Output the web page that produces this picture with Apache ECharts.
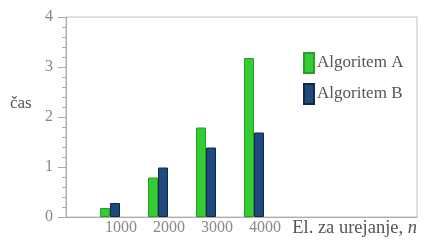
<!DOCTYPE html>
<html><head><meta charset="utf-8">
<script src="https://cdn.jsdelivr.net/npm/echarts@6/dist/echarts.min.js"></script>
<style>html,body{margin:0;padding:0;background:#fff}#c{width:437px;height:250px}</style>
</head><body><div id="c"></div>
<script>
var categories = ['1000', '2000', '3000', '4000'];
var seriesNames = ['Algoritem A', 'Algoritem B'];
var valuesA = [0.18, 0.79, 1.79, 3.18];
var valuesB = [0.28, 0.99, 1.39, 1.69];
var yTicks = [0, 1, 2, 3, 4];

var serif = 'Liberation Serif';
var chart = echarts.init(document.getElementById('c'), null, {renderer: 'canvas'});
chart.setOption({
  animation: false,
  backgroundColor: '#fff',
  graphic: [{type: 'text', left: 10, top: 95, style: {text: 'čas', font: '17px "Liberation Serif"', fill: '#555'}}],
  legend: {
    orient: 'vertical', left: 298, top: 47, itemWidth: 10, itemHeight: 20, itemGap: 9,
    icon: 'rect', data: seriesNames,
    textStyle: {fontFamily: serif, fontSize: 17, color: '#555', padding: [0, 0, 0, -2]}
  },
  grid: [
    {left: 66, right: 20, top: 17, bottom: 33, show: true, borderColor: '#c0c0c0', borderWidth: 1, backgroundColor: 'transparent'},
    {left: 86, width: 192, top: 17, bottom: 33}
  ],
  xAxis: [
    {gridIndex: 0, type: 'value', min: 0, max: 1, axisLine: {show: true, lineStyle: {color: '#aaa'}}, axisTick: {show: false}, axisLabel: {show: false}, splitLine: {show: false},
     name: '{a|El. za urejanje, }{i|n}', nameLocation: 'end', nameGap: 0,
     nameTextStyle: {align: 'right', verticalAlign: 'top', padding: [2, 0, 0, 0],
       rich: {a: {fontFamily: serif, fontSize: 18.5, color: '#555'}, i: {fontFamily: serif, fontSize: 18.5, fontStyle: 'italic', color: '#555'}}}},
    {gridIndex: 1, type: 'category', data: categories, axisLine: {show: false}, axisTick: {show: false},
     axisLabel: {margin: 3, fontFamily: serif, fontSize: 16, color: '#888', padding: [0, 0, 0, 22]}}
  ],
  yAxis: [
    {gridIndex: 0, type: 'value', min: yTicks[0], max: yTicks[yTicks.length - 1], interval: 1,
     axisLine: {show: true, lineStyle: {color: '#aaa'}},
     axisTick: {show: true, length: 8, lineStyle: {color: '#aaa'}},
     minorTick: {show: true, splitNumber: 5, length: 4, lineStyle: {color: '#aaa'}},
     splitLine: {show: false},
     axisLabel: {margin: 13, fontFamily: serif, fontSize: 16, color: '#888'}},
    {gridIndex: 1, type: 'value', min: 0, max: 4, show: false}
  ],
  series: [
    {name: seriesNames[0], type: 'bar', xAxisIndex: 1, yAxisIndex: 1, data: valuesA, barWidth: 10, barGap: '0%',
     itemStyle: {color: '#33cc33', borderColor: '#2a9e2a', borderWidth: 1}},
    {name: seriesNames[1], type: 'bar', xAxisIndex: 1, yAxisIndex: 1, data: valuesB, barWidth: 10, barGap: '0%',
     itemStyle: {color: '#1f4a80', borderColor: '#10284a', borderWidth: 1}}
  ]
});
</script></body></html>
